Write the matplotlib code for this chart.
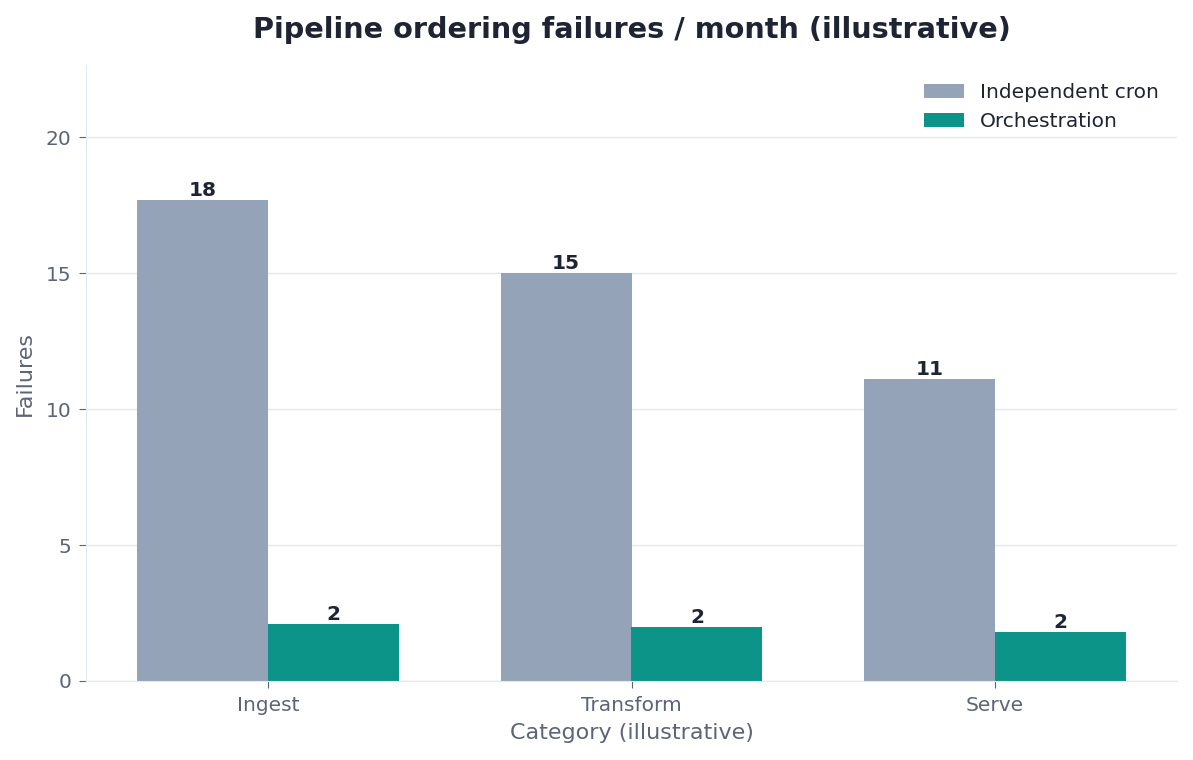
import numpy as np
import matplotlib.pyplot as plt

categories = ["Ingest", "Transform", "Serve"]
cron = [17.7, 15.0, 11.1]
orch = [2.1, 2.0, 1.8]
series_names = ["Independent cron", "Orchestration"]

dark = "#1e2433"
muted = "#5b6478"
grid_c = "#e2e8f0"

fig = plt.figure(figsize=(11.93, 7.6), dpi=100)
ax = fig.add_axes([86 / 1193, 1 - 681 / 760, (1177 - 86) / 1193, (681 - 65) / 760])

x = np.arange(len(categories))
w = 0.36
b1 = ax.bar(x - w / 2, cron, w, color="#94a3b8", label=series_names[0], zorder=2)
b2 = ax.bar(x + w / 2, orch, w, color="#0d9488", label=series_names[1], zorder=2)

for bars in (b1, b2):
    for r in bars:
        h = r.get_height()
        ax.text(r.get_x() + r.get_width() / 2, h, f"{h:.0f}", ha="center", va="bottom",
                fontsize=14.5, fontweight="bold", color=dark)

ax.set_xlim(-0.5, 2.5)
ax.set_ylim(0, max(cron) * 1.28)
ax.set_yticks([0, 5, 10, 15, 20])
ax.set_xticks(x)
ax.set_xticklabels(categories)
ax.yaxis.grid(True, color=grid_c, linewidth=1, zorder=0)
ax.set_axisbelow(True)
for s in ["top", "right"]:
    ax.spines[s].set_visible(False)
for s in ["left", "bottom"]:
    ax.spines[s].set_color(grid_c)
ax.tick_params(colors=muted, labelsize=14.5, length=5, pad=5.5)

ax.set_xlabel("Category (illustrative)", fontsize=16, color=muted, labelpad=6)
ax.set_ylabel("Failures", fontsize=16, color=muted, labelpad=8)
ax.set_title("Pipeline ordering failures / month (illustrative)", fontsize=20.7,
             fontweight="bold", color=dark, pad=19.5)

leg = ax.legend(frameon=False, fontsize=14.5, loc="upper right", labelspacing=0.5)
for t in leg.get_texts():
    t.set_color(dark)

fig.savefig("out.png", dpi=100)
